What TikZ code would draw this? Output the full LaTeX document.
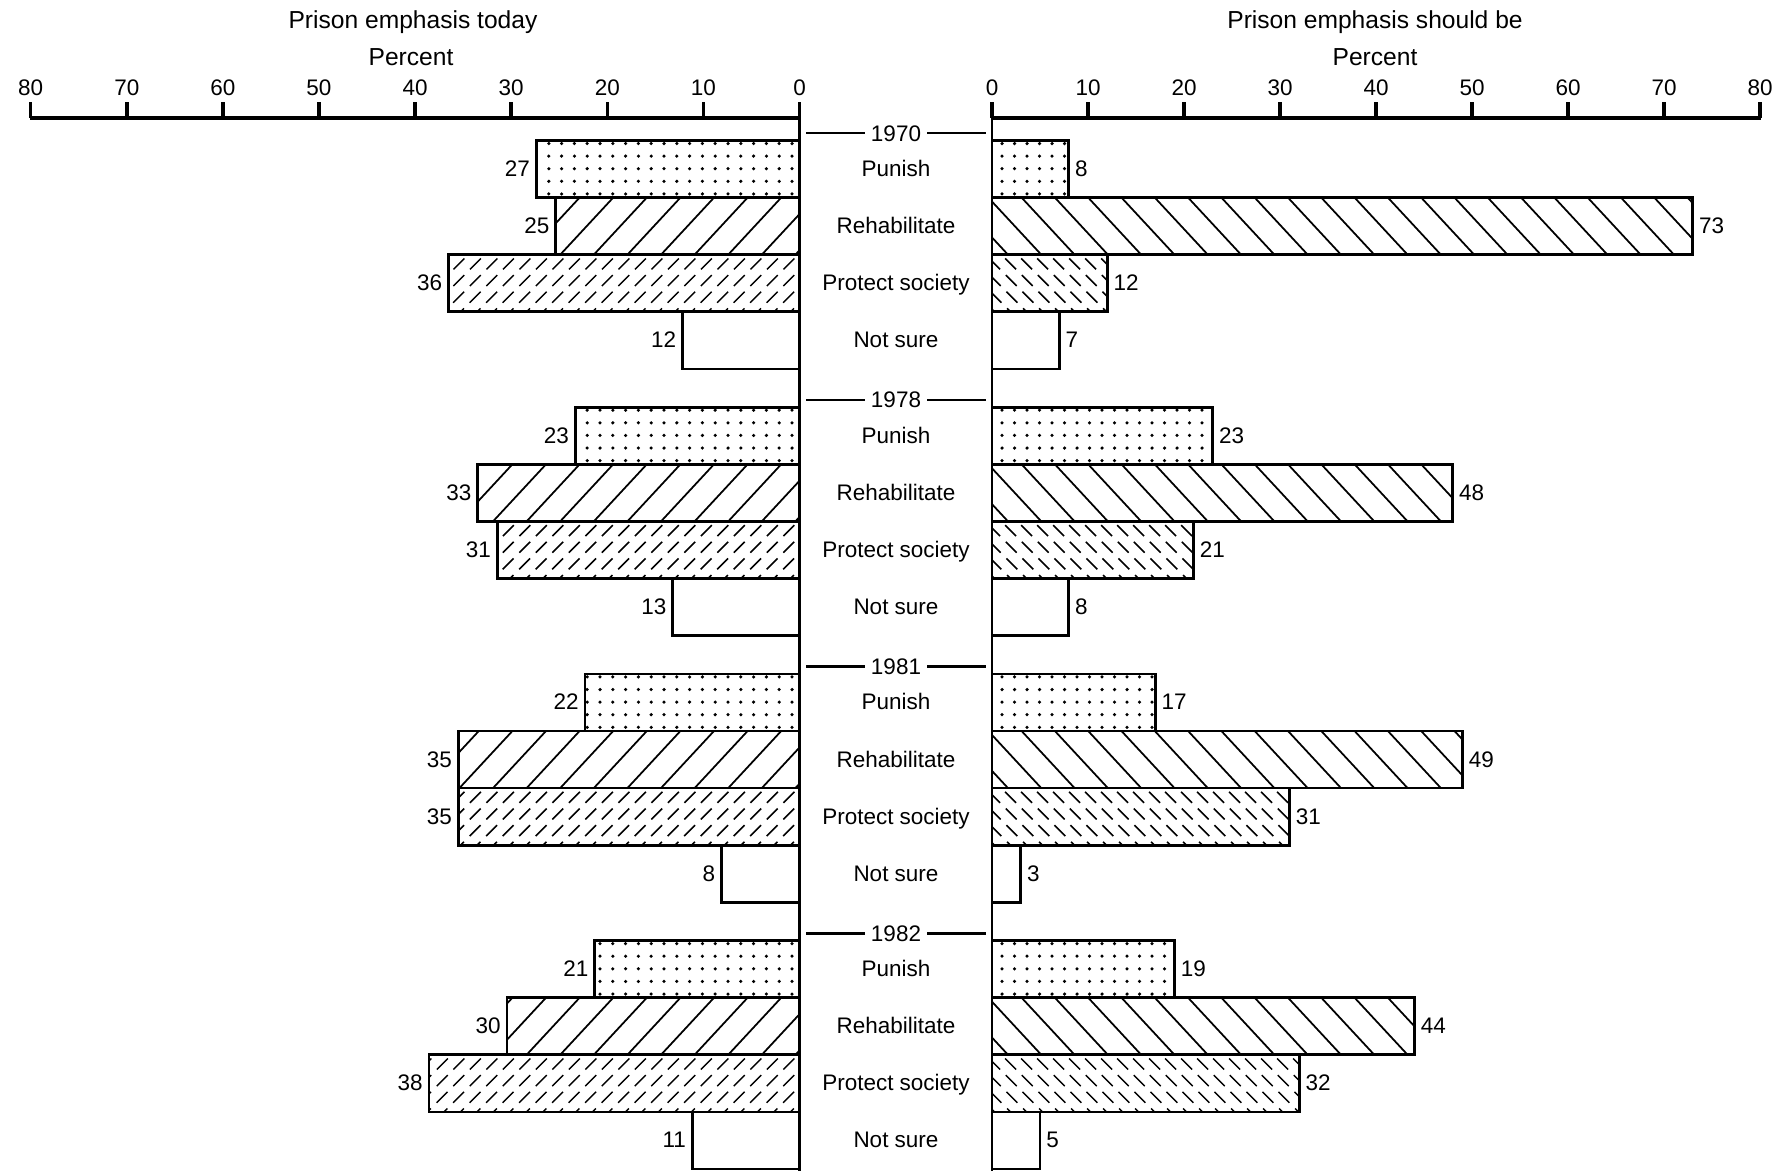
\documentclass[tikz,border=0pt]{standalone}
\usepackage{fontspec}
\setmainfont{Liberation Sans}
\usetikzlibrary{calc}
\newcommand{\clrink}{black}
\newcommand{\catname}[1]{\ifcase#1\relax Punish\or Rehabilitate\or Protect society\or Not sure\fi}

\begin{document}
\begin{tikzpicture}[x=0.02cm, y=-0.02cm,
    every node/.style={font=\fontsize{12.8}{14}\selectfont, text=\clrink},
    ttl/.style={font=\fontsize{14}{16}\selectfont, anchor=base},
    bar/.style={draw=\clrink, line width=1.5pt},
    axis/.style={draw=\clrink, line width=2pt},
    zero/.style={draw=\clrink, line width=1.6pt},
    hatch/.style={draw=\clrink, line width=1pt},
    dhatch/.style={draw=\clrink, line width=0.85pt, dash pattern=on 8.8pt off 4.6pt},
    yrline/.style={draw=\clrink, line width=1.4pt}]
    \path[use as bounding box, fill=white] (0,0) rectangle (1779,1174);

    %titles
    \node[ttl] (tleft) at (413,28) {Prison emphasis today};
    \node[ttl] (pleft) at (411,65) {Percent};
    \node[ttl] (tright) at (1375,28) {Prison emphasis should be};
    \node[ttl] (pright) at (1375,65) {Percent};

    %axes
    \foreach \t in {0,...,8} {
        \pgfmathtruncatemacro\tv{10*\t}
        \node[anchor=base] (lt\t) at (799.5-96.1*\t,95) {\tv};
        \node[anchor=base] (rt\t) at (992+96*\t,95) {\tv};
        \draw[axis] (799.5-96.1*\t,118) -- ++(0,-16);
        \draw[axis] (992+96*\t,118) -- ++(0,-16);
    }
    \draw[axis] (30,118) -- (800.5,118);
    \draw[axis] (991,118) -- (1761,118);

    %bars: group/category/today/should be
    \foreach \g/\k/\l/\r in {0/0/27/8, 0/1/25/73, 0/2/36/12, 0/3/12/7,
        1/0/23/23, 1/1/33/48, 1/2/31/21, 1/3/13/8,
        2/0/22/17, 2/1/35/49, 2/2/35/31, 2/3/8/3,
        3/0/21/19, 3/1/30/44, 3/2/38/32, 3/3/11/5} {
        \pgfmathsetmacro\yt{140.5+266.7*\g+57.1*\k}
        \pgfmathsetmacro\yb{\yt+57.1}
        \pgfmathsetmacro\xl{799.5-9.75*\l}
        \pgfmathsetmacro\xr{992+9.6*\r}
        \begin{scope}
            \clip (\xl,\yt) rectangle (799.5,\yb);
            \ifcase\k\relax
                \foreach \i in {0,...,22} \foreach \j in {0,...,4}
                    \fill[\clrink] (792-12.8*\i,\yt+3+12.6*\j) circle (1pt);
            \or
                \foreach \i in {0,...,14}
                    \draw[hatch] (829-33.6*\i,\yb) -- ++(53,-57.1);
            \or
                \foreach \i in {0,...,28}
                    \draw[dhatch] (799.5-16.5*\i,\yt+64.6) -- ++(69.6,-69.6);
            \fi
        \end{scope}
        \begin{scope}
            \clip (992,\yt) rectangle (\xr,\yb);
            \ifcase\k\relax
                \foreach \i in {0,...,22} \foreach \j in {0,...,4}
                    \fill[\clrink] (1002+12.5*\i,\yt+3+12.6*\j) circle (1pt);
            \or
                \foreach \i in {0,...,23}
                    \draw[hatch] (955+33.3*\i,\yt) -- ++(53,57.1);
            \or
                \foreach \i in {0,...,25}
                    \draw[dhatch] (1002+16*\i,\yt+64.6) -- ++(-69.6,-69.6);
            \fi
        \end{scope}
        \draw[bar] (\xl,\yt) rectangle (799.5,\yb);
        \draw[bar] (992,\yt) rectangle (\xr,\yb);
        \node[anchor=base] (cat-\g-\k) at (896,\yt+36) {\catname{\k}};
        \node[anchor=base east, inner sep=0pt] (lv-\g-\k) at (\xl-6,\yt+36) {\l};
        \node[anchor=base west, inner sep=0pt] (rv-\g-\k) at (\xr+6,\yt+36) {\r};
    }

    %years
    \foreach \yr [count=\g from 0] in {1970,1978,1981,1982} {
        \pgfmathsetmacro\yy{140.5+266.7*\g}
        \node[anchor=base] (yr\yr) at (896,\yy+0.5) {\yr};
        \coordinate (ya\yr) at (806,\yy);
        \coordinate (yb\yr) at (985.5,\yy);
        \draw[yrline] (ya\yr |- yr\yr.west) -- (yr\yr.west);
        \draw[yrline] (yr\yr.east) -- (yb\yr |- yr\yr.east);
    }

    %zero lines
    \draw[zero] (799.5,102) -- (799.5,1171);
    \draw[zero] (992,102) -- (992,1171);
\end{tikzpicture}
\end{document}
